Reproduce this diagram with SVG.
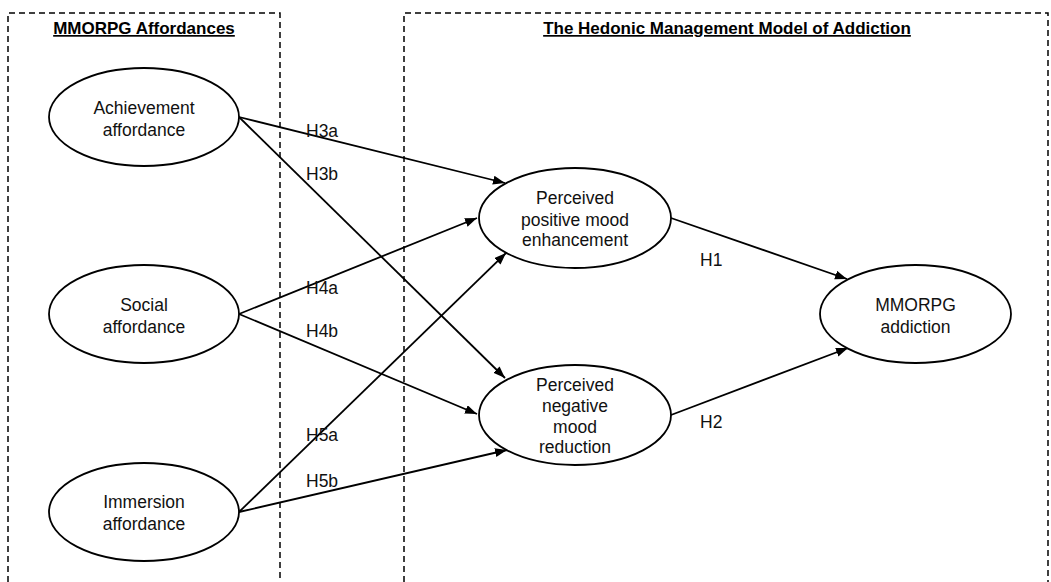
<svg xmlns="http://www.w3.org/2000/svg" width="1051" height="582" viewBox="0 0 1051 582">
  <style>
    .box { fill: none; stroke: #000; stroke-width: 1.5; stroke-dasharray: 6 4; }
    .node { fill: #fff; stroke: #000; stroke-width: 1.8; }
    .lbl { font-family: "Liberation Sans", Arial, sans-serif; font-size: 17.5px; fill: #111; text-anchor: middle; }
    .hyp { font-family: "Liberation Sans", Arial, sans-serif; font-size: 17.5px; fill: #111; }
    .title { font-family: "Liberation Sans", Arial, sans-serif; font-size: 17px; font-weight: bold; fill: #000; text-anchor: middle; text-decoration: underline; }
    .edge { stroke: #000; stroke-width: 1.8; fill: none; marker-end: url(#arrow); }
  </style>
  <defs>
    <marker id="arrow" markerUnits="userSpaceOnUse" markerWidth="13" markerHeight="10" refX="12" refY="4.5" orient="auto">
      <path d="M0,0 L12,4.5 L0,9 z" fill="#000"/>
    </marker>
  </defs>
  <rect width="1051" height="582" fill="#fff"/>

  <g id="group-affordances">
    <path class="box" d="M8,582 L8,13 L280,13 L280,582"/>
    <text class="title" x="144" y="34">MMORPG Affordances</text>
  </g>
  <g id="group-hedonic">
    <path class="box" d="M404,582 L404,13 L1048,13 L1048,582"/>
    <text class="title" x="727" y="34">The Hedonic Management Model of Addiction</text>
  </g>

  <g id="connectors">
    <line class="edge" x1="239" y1="117" x2="505" y2="183"/>
    <line class="edge" x1="239" y1="117" x2="505" y2="378"/>
    <line class="edge" x1="239" y1="314" x2="477" y2="218"/>
    <line class="edge" x1="239" y1="314" x2="477" y2="414"/>
    <line class="edge" x1="239" y1="512" x2="506" y2="253"/>
    <line class="edge" x1="239" y1="512" x2="507" y2="450"/>
    <line class="edge" x1="671" y1="218" x2="847" y2="279"/>
    <line class="edge" x1="671" y1="415" x2="848" y2="348"/>
    <text class="hyp" x="306" y="137">H3a</text>
    <text class="hyp" x="306" y="180">H3b</text>
    <text class="hyp" x="306" y="294">H4a</text>
    <text class="hyp" x="306" y="337">H4b</text>
    <text class="hyp" x="306" y="441">H5a</text>
    <text class="hyp" x="306" y="487">H5b</text>
    <text class="hyp" x="700" y="266">H1</text>
    <text class="hyp" x="700" y="428">H2</text>
  </g>

  <g id="node-achievement">
    <ellipse class="node" cx="144" cy="117" rx="95" ry="49"/>
    <text class="lbl" x="144" y="114">Achievement</text>
    <text class="lbl" x="144" y="136">affordance</text>
  </g>
  <g id="node-social">
    <ellipse class="node" cx="144" cy="314" rx="95" ry="49"/>
    <text class="lbl" x="144" y="311">Social</text>
    <text class="lbl" x="144" y="333">affordance</text>
  </g>
  <g id="node-immersion">
    <ellipse class="node" cx="144" cy="512" rx="95" ry="49"/>
    <text class="lbl" x="144" y="508">Immersion</text>
    <text class="lbl" x="144" y="530">affordance</text>
  </g>
  <g id="node-positive">
    <ellipse class="node" cx="575" cy="218" rx="96" ry="50"/>
    <text class="lbl" x="575" y="204">Perceived</text>
    <text class="lbl" x="575" y="226">positive mood</text>
    <text class="lbl" x="575" y="246">enhancement</text>
  </g>
  <g id="node-negative">
    <ellipse class="node" cx="575" cy="415" rx="96" ry="50"/>
    <text class="lbl" x="575" y="391">Perceived</text>
    <text class="lbl" x="575" y="412">negative</text>
    <text class="lbl" x="575" y="433">mood</text>
    <text class="lbl" x="575" y="453">reduction</text>
  </g>
  <g id="node-addiction">
    <ellipse class="node" cx="915.5" cy="314" rx="95.5" ry="49"/>
    <text class="lbl" x="915.5" y="311">MMORPG</text>
    <text class="lbl" x="915.5" y="333">addiction</text>
  </g>
</svg>
